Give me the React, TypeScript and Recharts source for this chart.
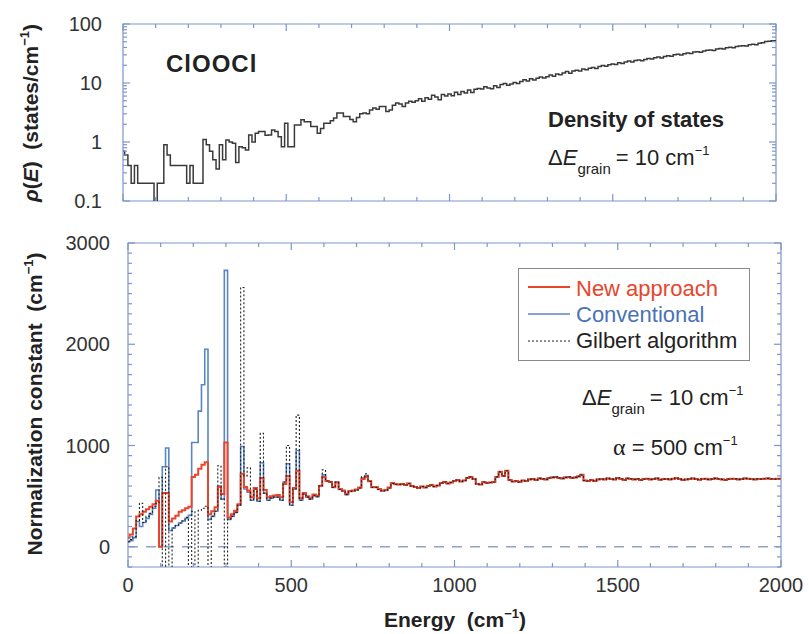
import React from 'react';
import { LineChart, Line, XAxis, YAxis, ReferenceLine, ReferenceArea, Legend } from 'recharts';

const W = 809;
const H = 634;
const FONT = '"Liberation Sans", Arial, Helvetica, sans-serif';
const FRAME = '#7d96c8';
const TEXT = '#333333';
const RED = '#e8452c';
const BLUE = '#5b86c4';
const DOTC = '#222222';

// ---------- data ----------
// grain energies (cm^-1), 10 cm^-1 grains
const energies = Array.from({ length: 201 }, (_, i) => i * 10);

// density of states (states / cm^-1)
const dosValues = [
  0.7, 0.6, 0.4, 0.2, 0.4, 0.2, 0.2, 0.2, 0.2, 0.2,
  0.05, 0.2, 0.2, 0.9, 0.6, 0.4, 0.4, 0.4, 0.4, 0.4,
  0.2, 0.4, 0.2, 0.2, 0.2, 1.1, 0.9, 0.7, 0.5, 0.35,
  0.9, 0.5, 1.08, 1.0, 0.95, 0.45, 0.83, 0.8, 0.73, 1.32,
  1.0, 1.41, 1.5, 1.5, 1.3, 1.32, 1.6, 1.5, 1.23, 0.83,
  2.08, 0.83, 0.83, 1.95, 1.95, 2.38, 2.2, 2.2, 1.83, 1.83,
  1.41, 1.7, 2.08, 2.08, 2.3, 2.54, 3.09, 3.09, 2.7, 2.7,
  2.4, 2.2, 2.6, 3.0, 3.1, 3.0, 3.5, 3.76, 3.6, 4.0,
  4.0, 3.3, 3.5, 4.2, 4.6, 4.4, 4.0, 4.6, 4.9, 4.7,
  5.0, 5.4, 4.9, 5.6, 5.3, 6.2, 5.8, 5.2, 6.4, 6.0,
  6.5, 6.1, 7.0, 6.4, 7.2, 6.8, 7.6, 6.9, 7.8, 8.1,
  7.9, 8.6, 8.2, 8.0, 9.0, 8.4, 9.4, 9.8, 9.2, 9.6,
  10.2, 9.8, 10.6, 11.4, 10.8, 11.8, 11.2, 12.0, 12.6, 12.2,
  12.8, 13.6, 13.0, 14.2, 13.8, 14.8, 15.6, 14.6, 16.0, 16.4,
  16.0, 17.2, 16.8, 17.8, 18.4, 17.6, 19.0, 19.8, 19.2, 20.4,
  21.0, 20.6, 22.0, 21.4, 22.8, 23.6, 22.6, 24.0, 24.6, 23.8,
  25.0, 26.0, 25.4, 26.8, 27.6, 26.6, 28.2, 29.0, 28.4, 30.0,
  30.6, 29.8, 31.4, 32.2, 31.6, 33.4, 34.0, 33.2, 35.0, 35.8,
  36.4, 35.6, 37.6, 38.4, 37.8, 39.6, 40.2, 39.4, 41.4, 42.2,
  43.0, 42.4, 44.6, 45.2, 44.4, 47.0, 48.2, 50.4, 51.0, 52.0,
  52.0,
];

// normalization constant, low-energy grains (0 - 820 cm^-1)
const newApproachHead = [
  90, 120, 180, 300, 320, 345, 370, 395, 420, 455,
  0, 530, 530, 250, 280, 305, 345, 360, 380, 395,
  690, 710, 770, 810, 835, 320, 350, 390, 590, 520,
  1030, 290, 320, 356, 420, 720, 590, 555, 490, 580,
  480, 680, 560, 490, 500, 505, 510, 490, 620, 700,
  440, 580, 750, 480, 530, 500, 485, 515, 505, 600,
  690, 650, 640, 590, 635, 570, 555, 520, 550, 555,
  565, 585, 670, 690, 650, 590, 590, 570, 555, 560,
  585, 630, 620,
];
const conventionalHead = [
  50, 60, 90, 250, 200, 240, 280, 320, 380, 560,
  0, 790, 975, 160, 185, 210, 235, 255, 280, 310,
  1030, 1030, 1340, 1600, 1950, 270, 300, 350, 600, 470,
  2730, 270, 300, 340, 410, 990, 570, 540, 460, 570,
  450, 830, 530, 460, 480, 490, 490, 460, 640, 820,
  410, 570, 950, 460, 520, 490, 470, 505, 495, 605,
  710, 650, 640, 585, 640, 565, 550, 515, 545, 550,
  560, 580, 680, 700, 645, 585, 585, 565, 550, 555,
  580, 625, 615,
];
const gilbertHead = [
  50, 70, 100, 260, 430, 240, 300, 330, 400, 430,
  685, -900, 790, -900, 185, 210, 235, 255, 290, -900,
  350, -900, 360, 380, 400, -900, 300, 350, 800, 470,
  -900, 270, 300, 340, 410, 2560, 700, 780, 460, 570,
  450, 1120, 530, 460, 480, 490, 490, 460, 640, 1000,
  410, 570, 1300, 460, 520, 490, 470, 505, 495, 605,
  760, 650, 640, 585, 640, 565, 550, 515, 545, 550,
  560, 580, 690, 720, 645, 585, 585, 565, 550, 555,
  580, 625, 615,
];
// high-energy grains (830 - 2000 cm^-1), where all three methods coincide
const commonTail = [
  615, 620, 610, 625, 600, 590, 580, 595, 585, 600,
  610, 595, 605, 630, 640, 625, 635, 650, 660, 645,
  655, 680, 690, 670, 620, 615, 640, 630, 635, 640,
  690, 740, 700, 750, 660, 645, 650, 640, 655, 650,
  665, 670, 660, 675, 670, 665, 680, 685, 690, 680,
  675, 685, 690, 680, 685, 695, 710, 655, 650, 660,
  650, 665, 670, 665, 675, 670, 665, 680, 670, 660,
  675, 670, 665, 670, 660, 668, 672, 665, 670, 675,
  662, 668, 670, 665, 672, 678, 668, 660, 665, 670,
  675, 668, 662, 670, 672, 665, 668, 675, 670, 665,
  660, 668, 672, 670, 665, 668, 675, 672, 668, 665,
  670, 668, 672, 675, 670, 668, 672, 672,
];

// tick labels
const energyTicks = Array.from({ length: 21 }, (_, i) => i * 100);
const energyLabels = [0, 500, 1000, 1500, 2000];
const dosLabels = [0.1, 1, 10, 100];
const dosTicks = [0.1, 1, 10]
  .flatMap((d) => [1, 2, 3, 4, 5, 6, 7, 8, 9].map((m) => +(d * m).toPrecision(3)))
  .concat([100]);
const normLabels = [0, 1000, 2000, 3000];
const normTicks = Array.from({ length: 33 }, (_, i) => -200 + i * 100);

const HEAD = newApproachHead.length;
const topData = energies.map((e, i) => ({ e, dos: dosValues[i] }));
const botData = energies.map((e, i) => ({
  e,
  newApp: i < HEAD ? newApproachHead[i] : commonTail[i - HEAD],
  conv: i < HEAD ? conventionalHead[i] : commonTail[i - HEAD],
  gilbert: i < HEAD ? gilbertHead[i] : commonTail[i - HEAD],
}));

// ---------- layout ----------
const TOPBOX = { left: 123, right: 776, top: 24, bottom: 201 };
const BOTBOX = { left: 128, right: 781, top: 243, bottom: 567 };
const AXW = 60;
const AXH = 30;

const makeXTick = (box: any, withLabels: boolean) => (props: any) => {
  const { x, payload } = props;
  const v = payload.value;
  const major = energyLabels.includes(v);
  const len = major ? 7 : 4;
  return (
    <g>
      <line x1={x} x2={x} y1={box.bottom} y2={box.bottom - len} stroke={FRAME} strokeWidth={1.2} />
      <line x1={x} x2={x} y1={box.top} y2={box.top + len} stroke={FRAME} strokeWidth={1.2} />
      {withLabels && major ? (
        <text x={x} y={box.bottom + 25} textAnchor="middle" fontSize={20} fontFamily={FONT} fill={TEXT}>
          {v}
        </text>
      ) : null}
    </g>
  );
};

const makeYTick = (box: any, labels: number[], labelX: number, fontSize: number) => (props: any) => {
  const { y, payload } = props;
  const v = payload.value;
  const major = labels.some((l) => Math.abs(l - v) < 1e-9);
  const len = major ? 7 : 4;
  return (
    <g>
      <line x1={box.left} x2={box.left + len} y1={y} y2={y} stroke={FRAME} strokeWidth={1.2} />
      <line x1={box.right} x2={box.right - len} y1={y} y2={y} stroke={FRAME} strokeWidth={1.2} />
      {major ? (
        <text x={labelX} y={y + 7} textAnchor="end" fontSize={fontSize} fontFamily={FONT} fill={TEXT}>
          {String(v)}
        </text>
      ) : null}
    </g>
  );
};

const legendItems = [
  { name: 'New approach', color: RED, text: RED, dash: undefined, width: 2 },
  { name: 'Conventional', color: BLUE, text: '#4a72b5', dash: undefined, width: 1.6 },
  { name: 'Gilbert algorithm', color: DOTC, text: '#222', dash: '2 2', width: 1.2 },
];

const LegendBox = () => (
  <svg width={232} height={93} style={{ display: 'block' }}>
    <rect x={0.5} y={0.5} width={231} height={92} fill="#ffffff" stroke="#8a8a8a" strokeWidth={1} />
    {legendItems.map((it, i) => (
      <g key={it.name}>
        <line x1={10} x2={52} y1={19 + i * 27} y2={19 + i * 27} stroke={it.color} strokeWidth={it.width} strokeDasharray={it.dash} />
        <text x={58} y={28 + i * 26} fontSize={22} fontFamily={FONT} fill={it.text}>
          {it.name}
        </text>
      </g>
    ))}
  </svg>
);

const abs: React.CSSProperties = { position: 'absolute', left: 0, top: 0 };

const GrainLabel = ({ x, y }: { x: number; y: number }) => (
  <text x={x} y={y} fontSize={22} fill="#222">
    <tspan>Δ</tspan>
    <tspan fontStyle="italic">E</tspan>
    <tspan fontSize={15} dy={9}>grain</tspan>
    <tspan dy={-9} dx={5}>= 10 cm</tspan>
    <tspan fontSize={13} dy={-10}>−1</tspan>
  </text>
);

export default function App() {
  return (
    <div style={{ position: 'absolute', left: 0, top: 0, width: W, height: H, background: '#fff', fontFamily: FONT }}>
      {/* top panel: density of states */}
      <div style={abs}>
        <LineChart
          width={W}
          height={H}
          data={topData}
          margin={{ top: TOPBOX.top, right: W - TOPBOX.right, bottom: H - TOPBOX.bottom - AXH, left: TOPBOX.left - AXW }}
        >
          <XAxis
            dataKey="e"
            type="number"
            domain={[0, 2000]}
            ticks={energyTicks}
            interval={0}
            height={AXH}
            axisLine={false}
            tickLine={false}
            tick={makeXTick(TOPBOX, false)}
          />
          <YAxis
            type="number"
            scale="log"
            domain={[0.1, 100]}
            allowDataOverflow
            ticks={dosTicks}
            interval={0}
            width={AXW}
            axisLine={false}
            tickLine={false}
            tick={makeYTick(TOPBOX, dosLabels, 102, 20)}
          />
          <ReferenceArea x1={0} x2={2000} y1={0.1} y2={100} fill="none" stroke={FRAME} strokeWidth={1.2} />
          <Line
            dataKey="dos"
            type="step"
            stroke="#3a3a3a"
            strokeWidth={1.5}
            dot={false}
            activeDot={false}
            isAnimationActive={false}
          />
        </LineChart>
      </div>

      {/* bottom panel: normalization constant */}
      <div style={abs}>
        <LineChart
          width={W}
          height={H}
          data={botData}
          margin={{ top: BOTBOX.top, right: W - BOTBOX.right, bottom: H - BOTBOX.bottom - AXH, left: BOTBOX.left - AXW }}
        >
          <XAxis
            dataKey="e"
            type="number"
            domain={[0, 2000]}
            ticks={energyTicks}
            interval={0}
            height={AXH}
            axisLine={false}
            tickLine={false}
            tick={makeXTick(BOTBOX, true)}
          />
          <YAxis
            type="number"
            domain={[-200, 3000]}
            allowDataOverflow
            ticks={normTicks}
            interval={0}
            width={AXW}
            axisLine={false}
            tickLine={false}
            tick={makeYTick(BOTBOX, normLabels, 110, 20)}
          />
          <ReferenceArea x1={0} x2={2000} y1={-200} y2={3000} fill="none" stroke={FRAME} strokeWidth={1.2} />
          <ReferenceLine y={0} stroke="#8ea3cb" strokeWidth={1.5} strokeDasharray="10 8" />
          <Line dataKey="conv" name="Conventional" type="step" stroke={BLUE} strokeWidth={1.6} dot={false} activeDot={false} isAnimationActive={false} />
          <Line dataKey="newApp" name="New approach" type="step" stroke={RED} strokeWidth={2} dot={false} activeDot={false} isAnimationActive={false} />
          <Line dataKey="gilbert" name="Gilbert algorithm" type="step" stroke={DOTC} strokeWidth={1.1} strokeDasharray="2 2" dot={false} activeDot={false} isAnimationActive={false} />
          <Legend
            layout="vertical"
            align="center"
            verticalAlign="middle"
            wrapperStyle={{ left: 518, top: 268, width: 232, height: 93 }}
            content={() => <LegendBox />}
          />
        </LineChart>
      </div>

      {/* annotations and axis titles */}
      <svg width={W} height={H} style={{ ...abs, pointerEvents: 'none' }} fontFamily={FONT}>
        <text x={166} y={72} fontSize={24} fontWeight="bold" fill="#222" letterSpacing={1}>ClOOCl</text>
        <text x={548} y={127} fontSize={22} fontWeight="bold" fill="#222">Density of states</text>
        <GrainLabel x={548} y={165} />
        <GrainLabel x={582} y={405} />
        <text x={613} y={455} fontSize={22} fill="#222">
          <tspan fontFamily='"Liberation Serif", "DejaVu Serif", serif' fontSize={24}>α</tspan>
          <tspan> = 500 cm</tspan>
          <tspan fontSize={13} dy={-10}>−1</tspan>
        </text>

        <text x={455} y={627} fontSize={21} fontWeight="bold" fill="#222" textAnchor="middle">
          <tspan>Energy{'\u00A0\u00A0'}(cm</tspan>
          <tspan fontSize={13} dy={-9}>−1</tspan>
          <tspan dy={9}>)</tspan>
        </text>
        <text transform="translate(42,404) rotate(-90)" fontSize={21} fontWeight="bold" fill="#222" textAnchor="middle">
          <tspan>Normalization constant{'\u00A0\u00A0'}(cm</tspan>
          <tspan fontSize={13} dy={-9}>−1</tspan>
          <tspan dy={9}>)</tspan>
        </text>
        <text transform="translate(38,113) rotate(-90)" fontSize={21} fontWeight="bold" fill="#222" textAnchor="middle">
          <tspan fontStyle="italic">ρ</tspan>
          <tspan>(</tspan>
          <tspan fontStyle="italic">E</tspan>
          <tspan>){'\u00A0\u00A0'}(states/cm</tspan>
          <tspan fontSize={13} dy={-9}>−1</tspan>
          <tspan dy={9}>)</tspan>
        </text>
      </svg>
    </div>
  );
}
